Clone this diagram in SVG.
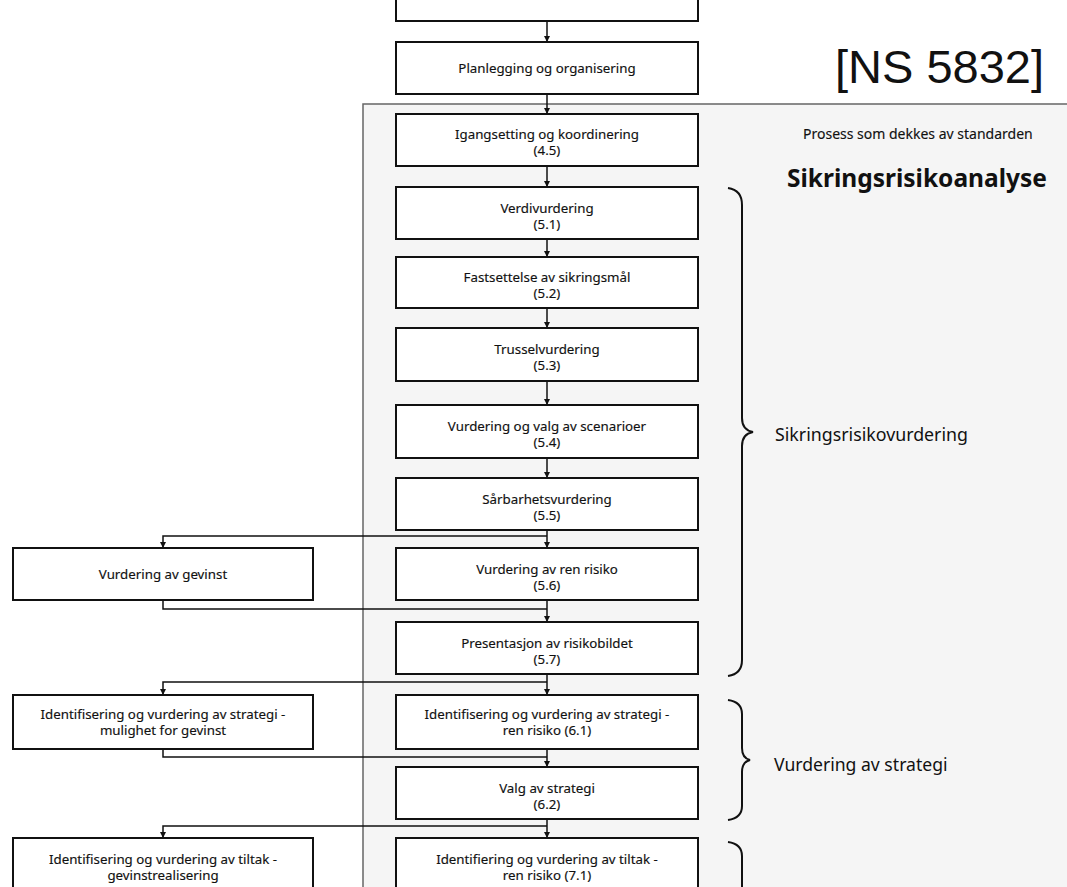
<svg xmlns="http://www.w3.org/2000/svg" width="1067" height="887" viewBox="0 0 1067 887">
<style>
.box{fill:#fff;stroke:#111;stroke-width:2}
.t{font-family:"Noto Sans","Open Sans",sans-serif;font-size:13.3px;fill:#111;text-anchor:middle;stroke:#111;stroke-width:0.15}
.c{fill:none;stroke:#111;stroke-width:1.5}
.br{fill:none;stroke:#111;stroke-width:2}
.lbl{font-family:"Noto Sans","Open Sans",sans-serif;fill:#111}
</style>
<defs>
<marker id="ah" viewBox="0 0 10 10" refX="10" refY="5" markerWidth="6" markerHeight="6" markerUnits="userSpaceOnUse" orient="auto">
<path d="M0,0 L10,5 L0,10 z" fill="#111"/>
</marker>
</defs>
<rect x="0" y="0" width="1067" height="887" fill="#fff"/>
<g id="frame">
<rect x="363" y="104" width="710" height="790" fill="#f5f5f5"/>
<path d="M363,890 L363,104 L1070,104" fill="none" stroke="#666" stroke-width="1.5"/>
</g>
<g id="connectors">
<line class="c" x1="547" y1="21" x2="547" y2="42" marker-end="url(#ah)"/>
<line class="c" x1="547" y1="94" x2="547" y2="114" marker-end="url(#ah)"/>
<line class="c" x1="547" y1="166" x2="547" y2="187" marker-end="url(#ah)"/>
<line class="c" x1="547" y1="239" x2="547" y2="257" marker-end="url(#ah)"/>
<line class="c" x1="547" y1="308" x2="547" y2="328" marker-end="url(#ah)"/>
<line class="c" x1="547" y1="381" x2="547" y2="405" marker-end="url(#ah)"/>
<line class="c" x1="547" y1="458" x2="547" y2="478" marker-end="url(#ah)"/>
<line class="c" x1="547" y1="530" x2="547" y2="548" marker-end="url(#ah)"/>
<line class="c" x1="547" y1="600" x2="547" y2="622" marker-end="url(#ah)"/>
<line class="c" x1="547" y1="674" x2="547" y2="695" marker-end="url(#ah)"/>
<line class="c" x1="547" y1="749" x2="547" y2="767" marker-end="url(#ah)"/>
<line class="c" x1="547" y1="819" x2="547" y2="838" marker-end="url(#ah)"/>
<polyline class="c" points="547,536 163,536 163,548" marker-end="url(#ah)"/>
<polyline class="c" points="163,600 163,609 547,609"/>
<polyline class="c" points="547,682 163,682 163,695" marker-end="url(#ah)"/>
<polyline class="c" points="163,749 163,757 547,757"/>
<polyline class="c" points="547,826 163,826 163,838" marker-end="url(#ah)"/>
</g>
<g id="n-top"><rect class="box" x="396" y="-5" width="302" height="26"/></g>
<g id="n-plan"><rect class="box" x="396" y="42" width="302" height="52"/>
<text class="t" x="547" y="72.5">Planlegging og organisering</text></g>
<g id="n-igang"><rect class="box" x="396" y="114" width="302" height="52"/>
<text class="t" x="547" y="138.5">Igangsetting og koordinering</text><text class="t" x="547" y="154.5">(4.5)</text></g>
<g id="n-51"><rect class="box" x="396" y="187" width="302" height="52"/>
<text class="t" x="547" y="212.5">Verdivurdering</text><text class="t" x="547" y="228.5">(5.1)</text></g>
<g id="n-52"><rect class="box" x="396" y="257" width="302" height="51"/>
<text class="t" x="547" y="281.5">Fastsettelse av sikringsmål</text><text class="t" x="547" y="297.5">(5.2)</text></g>
<g id="n-53"><rect class="box" x="396" y="328" width="302" height="53"/>
<text class="t" x="547" y="353.5">Trusselvurdering</text><text class="t" x="547" y="369.5">(5.3)</text></g>
<g id="n-54"><rect class="box" x="396" y="405" width="302" height="53"/>
<text class="t" x="547" y="430.5">Vurdering og valg av scenarioer</text><text class="t" x="547" y="446.5">(5.4)</text></g>
<g id="n-55"><rect class="box" x="396" y="478" width="302" height="52"/>
<text class="t" x="547" y="503.5">Sårbarhetsvurdering</text><text class="t" x="547" y="519.5">(5.5)</text></g>
<g id="n-56"><rect class="box" x="396" y="548" width="302" height="52"/>
<text class="t" x="547" y="573.5">Vurdering av ren risiko</text><text class="t" x="547" y="589.5">(5.6)</text></g>
<g id="n-57"><rect class="box" x="396" y="622" width="302" height="52"/>
<text class="t" x="547" y="647.5">Presentasjon av risikobildet</text><text class="t" x="547" y="663.5">(5.7)</text></g>
<g id="n-61"><rect class="box" x="396" y="695" width="302" height="54"/>
<text class="t" x="547" y="719">Identifisering og vurdering av strategi -</text><text class="t" x="547" y="735">ren risiko (6.1)</text></g>
<g id="n-62"><rect class="box" x="396" y="767" width="302" height="52"/>
<text class="t" x="547" y="792.5">Valg av strategi</text><text class="t" x="547" y="808.5">(6.2)</text></g>
<g id="n-71"><rect class="box" x="396" y="838" width="302" height="60"/>
<text class="t" x="547" y="863.5">Identifiering og vurdering av tiltak -</text><text class="t" x="547" y="879.5">ren risiko (7.1)</text></g>
<g id="n-gev"><rect class="box" x="13" y="548" width="300" height="52"/>
<text class="t" x="163" y="578.5">Vurdering av gevinst</text></g>
<g id="n-strg"><rect class="box" x="13" y="695" width="300" height="54"/>
<text class="t" x="163" y="719">Identifisering og vurdering av strategi -</text><text class="t" x="163" y="735">mulighet for gevinst</text></g>
<g id="n-tiltg"><rect class="box" x="13" y="838" width="300" height="60"/>
<text class="t" x="163" y="863.5">Identifisering og vurdering av tiltak -</text><text class="t" x="163" y="879.5">gevinstrealisering</text></g>
<g id="title">
<text x="835" y="83" font-family="'Liberation Sans',Arial,sans-serif" font-size="47" fill="#111">[NS 5832]</text>
<text class="lbl" x="803" y="139" font-size="14" stroke="#111" stroke-width="0.15">Prosess som dekkes av standarden</text>
<text class="lbl" x="787" y="187" font-size="24.5" font-weight="bold">Sikringsrisikoanalyse</text>
</g>
<g id="braces">
<path class="br" d="M728,188 Q742,190 742,205 L742,418 Q742,430 753,432 Q742,434 742,446 L742,660 Q742,674 728,676"/>
<text class="lbl" x="775" y="441" font-size="17.8">Sikringsrisikovurdering</text>
<path class="br" d="M728,700 Q742,702 742,714 L742,748 Q742,758 750,760 Q742,762 742,772 L742,806 Q742,818 728,820"/>
<text class="lbl" x="774" y="771" font-size="17.6">Vurdering av strategi</text>
<path class="br" d="M728,842 Q742,844 742,856 L742,892"/>
</g>
</svg>
